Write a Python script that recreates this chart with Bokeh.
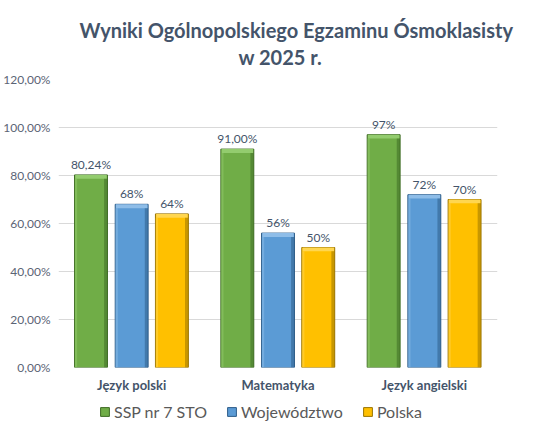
from bokeh.plotting import figure
from bokeh.layouts import column
from bokeh.models import (ColumnDataSource, FactorRange, Range1d, FixedTicker,
                          Legend, LegendItem, Title, LabelSet)
from bokeh.core.properties import value
from bokeh.transform import dodge
from bokeh.embed import file_html
from bokeh.resources import INLINE

# ---- data ----
categories = ["Język polski", "Matematyka", "Język angielski"]
series_names = ["SSP nr 7 STO", "Województwo", "Polska"]
ssp_values = [80.24, 91.0, 97.0]
woj_values = [68.0, 56.0, 72.0]
pol_values = [64.0, 50.0, 70.0]
ssp_labels = ["80,24%", "91,00%", "97%"]
woj_labels = ["68%", "56%", "72%"]
pol_labels = ["64%", "50%", "70%"]
y_ticks = [0, 20, 40, 60, 80, 100, 120]
y_tick_labels = ["0,00%", "20,00%", "40,00%", "60,00%", "80,00%", "100,00%", "120,00%"]
title_line1 = "Wyniki Ogólnopolskiego  Egzaminu  Ósmoklasisty"
title_line2 = "w 2025 r."

FONT = "Lato"
LABEL_COLOR = "#44546A"
TICK_COLOR = "#5B6475"

p = figure(width=542, height=395, output_backend="svg", toolbar_location=None,
           x_range=FactorRange(factors=categories, range_padding=0),
           y_range=Range1d(0, 120))
p.min_border_left = 50
p.min_border_right = 45
p.min_border_top = 79
p.min_border_bottom = 28
p.outline_line_color = None
p.background_fill_color = "white"
p.border_fill_color = "white"

# titles (added innermost first); a tiny spacer lifts both lines off the plot
spacer = Title(text=" ", text_font_size="1px", standoff=6)
t2 = Title(text=title_line2, align="left", text_font=FONT, text_font_size="20px",
           text_font_style="bold", text_color=LABEL_COLOR, standoff=3, offset=180)
t1 = Title(text=title_line1, align="left", text_font=FONT, text_font_size="20px",
           text_font_style="bold", text_color=LABEL_COLOR, standoff=0, offset=21)
p.add_layout(spacer, "above")
p.add_layout(t2, "above")
p.add_layout(t1, "above")

styles = [
    # main, top highlight, dark edge
    ("#70AD47", "#93CC6E", "#3E6B24"),
    ("#5B9BD5", "#8EBDE8", "#2D5C88"),
    ("#FFC000", "#FFD650", "#9A7400"),
]
offsets = [-0.278, 0.0, 0.275]
bar_w = 0.225
vals = [ssp_values, woj_values, pol_values]
labs = [ssp_labels, woj_labels, pol_labels]

# small figure that carries the legend under the chart
lf = figure(width=542, height=33, output_backend="svg", toolbar_location=None,
            x_range=p.x_range, y_range=Range1d(0, 1),
            x_axis_type=None, y_axis_type=None, min_border=0)
lf.outline_line_color = None
lf.xgrid.visible = False
lf.ygrid.visible = False
lf.background_fill_color = "white"
lf.border_fill_color = "white"

legend_items = []
for name, v, lab, (main, light, dark), off in zip(series_names, vals, labs, styles, offsets):
    src = ColumnDataSource(dict(cat=categories, val=v, lab=lab,
                                hl=[x - 1.6 for x in v],
                                nan=[float("nan") for _ in v]))
    p.vbar(x=dodge("cat", off, range=p.x_range), top="val", bottom=0, width=bar_w,
           source=src, fill_color=main, line_color=dark, line_width=1)
    # top bevel highlight
    p.vbar(x=dodge("cat", off, range=p.x_range), top="val", bottom="hl", width=bar_w - 0.01,
           source=src, fill_color=light, line_color=None)
    # right dark edge
    p.vbar(x=dodge("cat", off + bar_w / 2 - 0.012, range=p.x_range), top="hl", bottom=0,
           width=0.022, source=src, fill_color=dark, fill_alpha=0.55, line_color=None)
    # left lighter edge
    p.vbar(x=dodge("cat", off - bar_w / 2 + 0.01, range=p.x_range), top="hl", bottom=0,
           width=0.016, source=src, fill_color=light, fill_alpha=0.5, line_color=None)
    labels = LabelSet(x=dodge("cat", off, range=p.x_range), y="val", text="lab", source=src,
                      text_align="center", text_baseline="bottom", y_offset=3,
                      text_font=value(FONT), text_font_size=value("12px"),
                      text_color=LABEL_COLOR)
    p.add_layout(labels)
    # legend swatch carrier: non-finite heights, so nothing is drawn in the strip
    lr = lf.vbar(x=dodge("cat", off, range=p.x_range), top="nan", bottom="nan", width=bar_w,
                 source=src, fill_color=main, line_color=dark, line_width=1)
    legend_items.append(LegendItem(label=name, renderers=[lr]))

# axes
p.yaxis.ticker = FixedTicker(ticks=y_ticks)
p.yaxis.major_label_overrides = {t: l for t, l in zip(y_ticks, y_tick_labels)}
p.yaxis.axis_line_color = None
p.yaxis.major_tick_line_color = None
p.yaxis.minor_tick_line_color = None
p.yaxis.major_tick_out = 0
p.yaxis.major_tick_in = 0
p.yaxis.minor_tick_out = 0
p.yaxis.major_label_text_font = FONT
p.yaxis.major_label_text_font_size = "12px"
p.yaxis.major_label_text_color = TICK_COLOR
p.yaxis.major_label_standoff = 8

p.xaxis.axis_line_color = None
p.xaxis.major_tick_line_color = None
p.xaxis.minor_tick_line_color = None
p.xaxis.major_tick_out = 0
p.xaxis.major_tick_in = 0
p.xaxis.minor_tick_out = 0
p.xaxis.major_label_text_font = FONT
p.xaxis.major_label_text_font_size = "13px"
p.xaxis.major_label_text_font_style = "bold"
p.xaxis.major_label_text_color = LABEL_COLOR
p.xaxis.major_label_standoff = 9

p.xgrid.grid_line_color = None
p.ygrid.grid_line_color = "#D9D9D9"
p.ygrid.grid_line_width = 1

legend = Legend(items=legend_items, orientation="horizontal", location=(41, 7),
                label_text_font=FONT, label_text_font_size="16px", label_text_color="#595959",
                glyph_width=11, glyph_height=11, spacing=19, padding=4, margin=0,
                label_standoff=4, border_line_color=None, background_fill_alpha=0)
lf.add_layout(legend)

layout = column(p, lf, spacing=0)
open("out.html", "w").write(file_html(layout, INLINE))
